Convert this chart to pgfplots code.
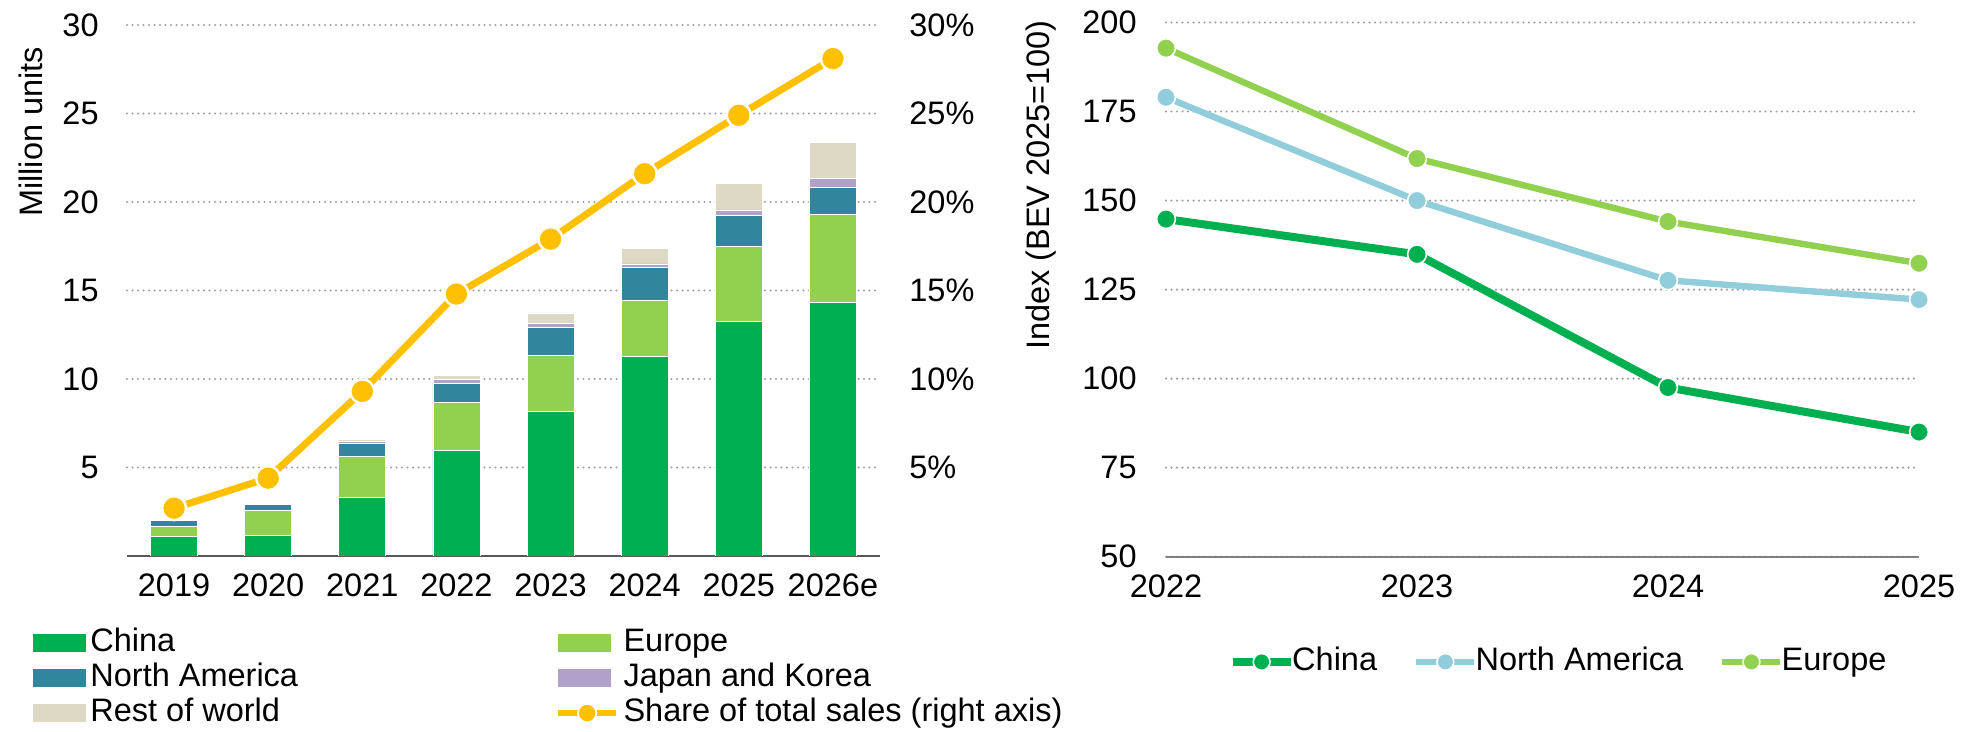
\documentclass[border=0pt]{standalone}
\usepackage{fontspec}
\setmainfont{Liberation Sans}
\usepackage{pgfplots}
\pgfplotsset{compat=1.18}
\definecolor{cChina}{HTML}{00B050}
\definecolor{cEurope}{HTML}{92D050}
\definecolor{cNA}{HTML}{31859C}
\definecolor{cJK}{HTML}{B1A0C7}
\definecolor{cRoW}{HTML}{DDD9C4}
\definecolor{cShare}{HTML}{FFC000}
\definecolor{cNAline}{HTML}{92CDDC}
\definecolor{cGrid}{HTML}{9F9F9F}
\definecolor{cBase}{HTML}{595959}
\definecolor{cBaseR}{HTML}{808080}
\newcommand{\fs}{\fontsize{16.25pt}{19pt}\selectfont}
\pgfplotsset{
  base/.style={
    scale only axis,
    anchor=south west,
    font=\fs,
    tick label style={font=\fs},
    /pgf/number format/assume math mode=true,
    major tick length=0pt,
    grid style={cGrid, line width=1.2pt, dash pattern=on 0pt off 2.75pt, line cap=round},
  },
  sqlegend/.style={legend image code/.code={\fill[##1,draw=none] (0pt,-4.5pt) rectangle (26.5pt,4.5pt);}},
  lnlegend/.style n args={3}{legend image code/.code={%
    \draw[##1, mark=none, line width=#3] (0pt,0pt) -- (29pt,0pt);
    \filldraw[fill=#1, draw=white, line width=0.8pt] (14.5pt,0pt) circle (#2);}},
}
\begin{document}
\begin{tikzpicture}
\useasboundingbox (0,0) rectangle (991pt,366pt);
% ---------- left chart: stacked bars ----------
\begin{axis}[base,
  at={(63.5pt,88pt)}, width=376.5pt, height=265.5pt,
  xmin=-0.5, xmax=7.5, ymin=0, ymax=30,
  ybar stacked, bar width=23.5pt,
  axis x line*=bottom, axis y line*=left,
  x axis line style={cBase, line width=1pt, -},
  y axis line style={draw=none},
  xtick={0,1,2,3,4,5,6,7},
  xticklabels={2019,2020,2021,2022,2023,2024,2025,2026e},
  xticklabel style={inner sep=0pt, yshift=-8.5pt},
  ytick={5,10,15,20,25,30},
  yticklabel style={inner sep=0pt, xshift=-14pt},
  ymajorgrids,
  legend columns=2,
  legend cell align=left,
  legend style={at={(-0.1248,-0.131)}, anchor=north west, draw=none, fill=none,
    inner sep=0pt, outer sep=0pt, row sep=0pt,
    nodes={inner sep=1pt, text height=12pt, text depth=3.5pt, font=\fs},
    /tikz/every odd column/.append style={column sep=1.2pt},
    /tikz/every even column/.append style={column sep=127.5pt}},
]
\addplot[fill=cChina, draw=white, line width=0.4pt, sqlegend] coordinates {(0,1.1) (1,1.15) (2,3.3) (3,5.95) (4,8.15) (5,11.25) (6,13.25) (7,14.3)};
\addlegendentry{China}
\addplot[fill=cEurope, draw=white, line width=0.4pt, sqlegend] coordinates {(0,0.55) (1,1.4) (2,2.3) (3,2.7) (4,3.2) (5,3.2) (6,4.25) (7,5.0)};
\addlegendentry{Europe}
\addplot[fill=cNA, draw=white, line width=0.4pt, sqlegend] coordinates {(0,0.38) (1,0.35) (2,0.75) (3,1.1) (4,1.55) (5,1.85) (6,1.75) (7,1.5)};
\addlegendentry{North America}
\addplot[fill=cJK, draw=white, line width=0.4pt, sqlegend] coordinates {(0,0.05) (1,0.06) (2,0.1) (3,0.22) (4,0.25) (5,0.2) (6,0.3) (7,0.55)};
\addlegendentry{Japan and Korea}
\addplot[fill=cRoW, draw=white, line width=0.4pt, sqlegend] coordinates {(0,0.05) (1,0.04) (2,0.13) (3,0.25) (4,0.58) (5,0.9) (6,1.5) (7,2.0)};
\addlegendentry{Rest of world}
\addlegendimage{cShare, lnlegend={cShare}{4.6pt}{3pt}}
\addlegendentry{Share of total sales (right axis)}
\end{axis}
% ---------- left chart: share line on right axis ----------
\begin{axis}[base,
  at={(63.5pt,88pt)}, width=376.5pt, height=265.5pt,
  xmin=-0.5, xmax=7.5, ymin=0, ymax=30,
  axis x line=none,
  axis y line*=right,
  y axis line style={draw=none},
  ytick={5,10,15,20,25,30},
  yticklabel={\pgfmathprintnumber{\tick}\%},
  yticklabel style={inner sep=0pt, xshift=14.5pt},
]
\addplot[cShare, line width=3.5pt, mark=*, mark size=6pt, mark options={fill=cShare, draw=white, line width=1.2pt}] coordinates {(0,2.7) (1,4.4) (2,9.3) (3,14.8) (4,17.9) (5,21.6) (6,24.9) (7,28.1)};
\end{axis}
\node[rotate=90, font=\fs] at (15.25pt,300pt) {Million units};
% ---------- right chart ----------
\begin{axis}[base,
  at={(583pt,87.65pt)}, width=376.5pt, height=267.1pt,
  xmin=2022, xmax=2025, ymin=50, ymax=200,
  xtick={2022,2023,2024,2025},
  xticklabel style={/pgf/number format/1000 sep=, inner sep=0pt, yshift=-9pt},
  ytick={50,75,100,125,150,175,200},
  yticklabel style={inner sep=0pt, xshift=-14.5pt},
  axis x line*=bottom, axis y line*=left,
  x axis line style={cBaseR, line width=1pt, -},
  y axis line style={draw=none},
  ymajorgrids,
  legend columns=3,
  legend cell align=left,
  legend style={at={(0.0837,-0.197)}, anchor=west, draw=none, fill=none,
    inner sep=0pt, outer sep=0pt,
    nodes={inner sep=1pt, text height=12pt, text depth=3.5pt, font=\fs},
    /tikz/every odd column/.append style={column sep=-2pt},
    /tikz/every even column/.append style={column sep=17pt}},
]
\addplot[cChina, line width=4pt, mark=*, mark size=4.7pt, mark options={fill=cChina, draw=white, line width=0.8pt}, lnlegend={cChina}{4.2pt}{3.6pt}] coordinates {(2022,144.8) (2023,134.9) (2024,97.5) (2025,85.0)};
\addlegendentry{China}
\addplot[cNAline, line width=3.2pt, mark=*, mark size=4.7pt, mark options={fill=cNAline, draw=white, line width=0.8pt}, lnlegend={cNAline}{4.2pt}{3.2pt}] coordinates {(2022,179.0) (2023,150.0) (2024,127.6) (2025,122.2)};
\addlegendentry{North America}
\addplot[cEurope, line width=3.2pt, mark=*, mark size=4.7pt, mark options={fill=cEurope, draw=white, line width=0.8pt}, lnlegend={cEurope}{4.2pt}{3.2pt}] coordinates {(2022,192.8) (2023,161.8) (2024,144.1) (2025,132.4)};
\addlegendentry{Europe}
\end{axis}
\node[rotate=90, font=\fs] at (520.75pt,273.5pt) {Index (BEV 2025=100)};
\end{tikzpicture}
\end{document}
